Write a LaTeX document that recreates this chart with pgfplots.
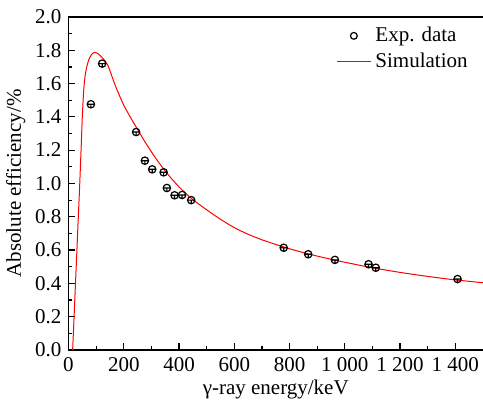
\documentclass[border=0pt]{standalone}
\usepackage{fontspec}
\setmainfont{Liberation Serif}
\usepackage{pgfplots}
\pgfplotsset{compat=1.18}
\usetikzlibrary{calc}

% circle with a bar, as the measured points are drawn
\pgfdeclareplotmark{expbar}{%
  \pgfpathcircle{\pgfpointorigin}{\pgfplotmarksize}%
  \pgfpathmoveto{\pgfqpoint{-\pgfplotmarksize}{0pt}}%
  \pgfpathlineto{\pgfqpoint{\pgfplotmarksize}{0pt}}%
  \pgfpathmoveto{\pgfpointorigin}%
  \pgfpathlineto{\pgfqpoint{0pt}{-\pgfplotmarksize}}%
  \pgfusepathqstroke}

\begin{document}
\begin{tikzpicture}[font=\fontsize{10.5}{12.6}\selectfont]
\begin{axis}[
  name=ax,
  scale only axis,
  width=207.25pt, height=166.5pt,
  xmin=0, xmax=1500, ymin=0, ymax=2,
  xtick={0,200,400,600,800,1000,1200,1400},
  ytick={0,0.2,0.4,0.6,0.8,1.0,1.2,1.4,1.6,1.8,2.0},
  minor x tick num=1, minor y tick num=1,
  axis x line*=box, axis y line*=left,
  x axis line style={-}, y axis line style={-},
  axis line style={line width=0.65pt, black},
  tick align=inside,
  xtick pos=bottom, ytick pos=left,
  major tick length=3.5pt, minor tick length=2pt,
  tick style={line width=0.6pt, black},
  xticklabel style={/pgf/number format/.cd, 1000 sep={\ }, assume math mode=true},
  yticklabel style={/pgf/number format/.cd, fixed, fixed zerofill, precision=1, assume math mode=true},
  xlabel={γ-ray energy/keV},
  xlabel style={yshift=2.5pt},
  ylabel={Absolute efficiency/\%},
  ylabel style={yshift=-2pt},
  legend style={draw=none, fill=none, at={(0.9735,0.983)}, anchor=north east,
    inner sep=0pt, row sep=0pt, legend cell align=left},
  reverse legend,
]
\addplot[red, line width=0.5pt, smooth, tension=0.4] coordinates {
  (15,0) (20,0.19) (25,0.39) (30,0.58) (35,0.78) (40,0.97) (45,1.18) (50,1.40)
  (55,1.56) (60,1.645) (66,1.70) (75,1.75) (85,1.778) (95,1.788) (105,1.782)
  (115,1.768) (125,1.75) (135,1.73) (145,1.70) (160,1.63) (175,1.565)
  (200,1.47) (225,1.395) (250,1.325) (275,1.255) (300,1.19) (325,1.13)
  (350,1.075) (375,1.025) (400,0.98) (425,0.94) (450,0.903) (500,0.842)
  (550,0.785) (600,0.735) (650,0.695) (700,0.662) (750,0.634) (800,0.608)
  (850,0.585) (900,0.564) (950,0.545) (1000,0.527) (1100,0.494) (1200,0.466)
  (1300,0.442) (1400,0.421) (1500,0.404)};
\addlegendentry{Simulation}
\addplot[only marks, black, mark=expbar, mark size=1.85pt, line width=0.6pt,
  legend image code/.code={\draw[black, line width=0.6pt, mark=o, mark size=1.7pt] plot coordinates {(0.3cm,0cm)};}]
  coordinates {
  (81.0,1.476) (121.8,1.720) (244.7,1.309) (276.4,1.137) (302.9,1.085)
  (344.3,1.067) (356.0,0.973) (383.8,0.929) (411.1,0.931) (444.0,0.900)
  (778.9,0.614) (867.4,0.575) (964.1,0.541) (1085.8,0.515) (1112.1,0.494)
  (1408.0,0.426)};
\addlegendentry{Exp. data}
\end{axis}
\pgfresetboundingbox
\path[use as bounding box] ($(ax.south west)+(-34.25pt,-25.5pt)$) rectangle ($(ax.north east)+(0pt,8.5pt)$);
\end{tikzpicture}
\end{document}
